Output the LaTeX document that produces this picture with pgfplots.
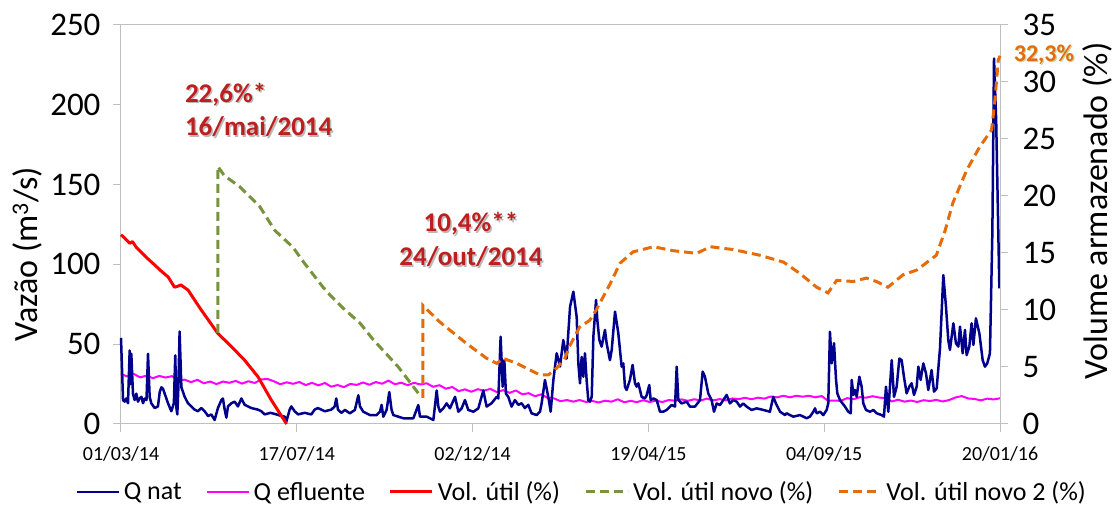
\documentclass[border=0pt]{standalone}
\usepackage{fontspec}
\setmainfont{Carlito}
\usepackage{pgfplots}
\pgfplotsset{compat=1.18}

\definecolor{qnat}{RGB}{0,0,140}
\definecolor{qefl}{RGB}{255,0,255}
\definecolor{volu}{RGB}{255,0,0}
\definecolor{voln}{RGB}{119,147,60}
\definecolor{voln2}{RGB}{228,108,10}
\definecolor{axgray}{RGB}{191,191,191}
\definecolor{annot}{RGB}{190,30,30}
\definecolor{glow}{RGB}{196,214,160}

\tikzset{shd/.style={text=gray!55, xshift=1.5pt, yshift=-1.5pt}}

\pgfplotsset{
  base/.style={
    scale only axis, width=879pt, height=399pt,
    at={(0,0)}, anchor=south west,
    xmin=0, xmax=690, clip=false,
    axis line style={axgray, line width=1pt},
    tick style={axgray, line width=1pt},
    major tick length=8pt, tick align=outside,
    /pgf/number format/assume math mode=true,
    /pgf/number format/use comma,
    yticklabel style={font=\fontsize{33}{35}\selectfont},
    xticklabel style={font=\fontsize{20}{22}\selectfont, yshift=-11pt},
    label style={font=\fontsize{34}{36}\selectfont},
  },
}

\begin{document}
\begin{tikzpicture}

% vazoes (eixo da esquerda)
\begin{axis}[base,
    ymin=0, ymax=250, ytick={0,50,...,250},
    xtick pos=lower, ytick pos=left,
    yticklabel style={xshift=-9pt},
    xtick={0,138,276,414,552,690},
    xticklabels={01/03/14,17/07/14,02/12/14,19/04/15,04/09/15,20/01/16},
    ylabel={Vazão (m\textsuperscript{3}/s)},
    ylabel style={at={(rel axis cs:0,0.426)}, anchor=center, yshift=94pt},
]
% Q efluente
\addplot[qefl, line width=2pt, line join=round] coordinates {
(0,31.3)(5,29.8)(10,31.4)(15,29.2)(20,30.3)(25,28.7)(30,30.1)(35,29.1)(40,30)(45,27.3)
(50,27.8)(55,26.2)(60,27.7)(65,25.5)(70,26.6)(75,25)(80,26.6)(85,25.8)(90,27)(95,25.3)
(100,26.8)(105,25.7)(110,27.9)(115,28.2)(120,26.8)(125,24.9)(130,26.1)(135,25.2)(140,26.3)(145,24.4)
(150,25.8)(155,24.2)(160,25.7)(165,23.4)(170,24.4)(175,23.1)(180,25.1)(185,24.5)(190,26)(195,24.6)
(200,26.3)(205,25.2)(210,27.2)(215,24.9)(220,25.9)(225,24.3)(230,25.8)(235,24.8)(240,25.5)(245,23.3)
(250,24.3)(255,22.1)(260,23.2)(265,20.6)(270,21.7)(275,20.2)(280,21.8)(285,20.9)(290,22)(295,20)
(300,21.2)(305,19.5)(310,21)(315,18.6)(320,19.3)(325,17.4)(330,18.6)(335,16.3)(340,16)(345,14.3)
(350,15)(355,14)(360,15)(365,13.8)(370,14.4)(375,13.5)(380,14.6)(385,14)(390,15.5)(395,13.6)
(400,14.5)(405,13.7)(410,14.9)(415,13.8)(420,14.6)(425,13.8)(430,15)(435,14.6)(440,15.4)(445,14.5)
(450,15.5)(455,14.7)(460,15.9)(465,14.8)(470,15.6)(475,14.8)(480,16)(485,15.6)(490,16.4)(495,15.5)
(500,16.5)(505,15.9)(510,17.2)(515,16.7)(520,17.7)(525,16.7)(530,17.7)(535,17.1)(540,17.7)(545,16.7)
(550,17.5)(555,14.6)(560,14.7)(565,14.5)(570,16.2)(575,15.5)(580,16.8)(585,16.5)(590,17.4)(595,16.6)
(600,16.2)(605,14.1)(610,15.2)(615,14)(620,14.7)(625,13.8)(630,14.9)(635,14.4)(640,15.1)(645,14.1)
(650,15)(655,16.6)(660,17.5)(665,16)(670,15.7)(675,14.8)(680,15.9)(685,15.4)(690,16.1)
};
% Q nat
\addplot[qnat, line width=2.5pt, line join=round] coordinates {
(0,54)(1.6,15)(2.9,14)(4,16)(5.5,13)(6.8,46)(7.5,25)(8.1,44)(9.4,19)(10.7,15)
(12,19)(13.3,14)(14.6,16)(16,17)(17.3,13)(18.6,16)(20,15)(21.2,44)(22.5,17)(23.8,13)
(26.4,10)(29,11)(30.4,20)(31.7,23)(33,22)(34.3,19)(36.9,13)(39.5,8)(41.5,13)(42.6,43)
(43.5,10)(44.2,6)(45,22)(46,58)(47.4,23)(50,17)(52.6,13)(55.2,11)(57.8,9)(60.4,8)
(63,10)(65.7,8)(68.3,5)(70.9,6)(73.5,2.5)(76.1,10)(78.8,15)(80,16)(81.4,9)(82.7,4)
(84,11)(86.6,13)(89.2,14)(91.8,11)(94.5,16)(97.1,12)(99.7,11)(102.3,10)(107.5,9)(110.2,8)
(112.8,6)(117.3,7)(122,6)(126,5)(128.5,4.6)(129.8,1.5)(132.4,9)(133.7,11)(136.3,8)(139,6)
(144.2,7)(149.4,6)(152,9)(154.6,10)(159.9,8)(165.1,9)(167.7,11)(169,16)(170.3,9)(173,7)
(175.8,8.8)(179.7,6.7)(183.6,8.8)(186.3,18)(187.6,11)(190.2,7.7)(195.4,5.6)(200.7,5.6)(203.3,7.7)(204.6,12)
(205.9,4.6)(208.5,8.8)(210.6,20)(212.4,8.8)(213.8,5.6)(221.6,3.6)(229.5,3.6)(233.4,11.9)(234.7,4.6)(239.9,4.6)
(245.2,2.5)(247.8,21)(249.1,10.9)(250.4,7.7)(253,9.8)(255.6,12.9)(258.2,9.8)(262.2,17)(264.8,7.7)(267.4,9.8)
(270,15)(272.6,8.8)(276.6,7.7)(280.5,9.8)(284.4,21)(287,10.9)(290.9,13)(294.9,17)(296.2,16)(298,54.7)
(299.6,23.4)(300.9,40)(302.2,19)(304,17)(306.6,10.9)(309.2,15)(311.9,12)(314.5,13)(317,10)(319.7,12)
(322.3,6.7)(326.3,5.6)(328.9,7.7)(330.2,13)(332.8,27.6)(335.4,17)(337.3,7.7)(339.4,27.6)(342,44.3)(344.6,36)
(347.2,52.6)(349.8,41)(352.5,73.5)(355.1,82.9)(357.7,67)(359,38)(360.3,25.5)(361.6,42)(362.9,29.6)(364.2,44.3)
(365.5,27.6)(366.8,15)(368.1,14)(369.5,17)(370.8,54.7)(372.9,77.7)(373.9,65.2)(375.5,52.6)(377.3,48.5)(379.9,58.9)
(381.2,50.6)(383.8,40)(385.2,46.4)(387.8,70.4)(390.4,56.8)(393,35.9)(394.3,38)(395.6,23.4)(396.9,21.3)(399.5,27.6)
(401.6,37)(403.5,25.5)(404.8,23.4)(406.1,25.5)(408.7,17)(411.3,16)(412.6,18)(414.7,24.4)(415.8,15)(417.9,16)
(420.5,15)(423.1,7.7)(425.7,7.7)(428.3,8.8)(432.3,11.9)(434.9,10.9)(436.2,35.9)(437.5,15)(440.1,12.9)(444,14)
(446.6,10.9)(450.6,10.9)(454.5,15)(456.6,32.8)(458.4,29.6)(461,19.2)(463.6,15)(465.5,7.7)(467.6,12.9)(470.2,11.9)
(472.8,15)(475.4,18.2)(478,12.9)(480.7,15)(483.3,14)(485.9,10.9)(488.5,12.9)(491.1,10.9)(495,8.8)(499,9.8)
(504.2,8.8)(509.4,7.7)(512,17)(514.1,12.9)(517.3,7.7)(521.2,5.6)(522.5,6.7)(525.1,5.6)(527.8,4.6)(533,5.6)
(538.2,3.6)(540.8,4.6)(543.5,7.7)(544.8,9.8)(546.1,6.7)(548.7,7.7)(551.3,5.6)(553.9,8.8)(555.2,12.9)(556.5,57.8)
(557.9,38)(559.7,50.6)(561.3,27.6)(562.3,19.2)(564.4,15)(568.3,10.9)(570.9,7.7)(572.8,6.7)(573.6,27.6)(574.9,18.2)
(576.2,21.3)(577.5,17)(579.6,29.6)(581.4,23.4)(582.7,12.9)(584.8,8.8)(587.9,7.7)(590.6,8.8)(593.2,6.7)(597.1,5.6)
(598.9,4.6)(600.5,23.4)(602.3,7.7)(605,40)(606.8,17)(608.9,23.4)(611,41)(612.8,40)(614.6,29.6)(616.7,19.2)
(618.8,23.4)(620.6,25.5)(622.5,18.2)(624.6,23.4)(625.9,35.9)(627.7,27.6)(629.8,38)(631.9,31.7)(633.7,21.3)(636.3,33.8)
(638.2,20.3)(640.3,22.3)(642.9,47.4)(645.5,93.3)(647.6,73.5)(649.4,52.6)(650.7,46.4)(653.4,63.1)(655.4,50.6)(657.3,48.5)
(658.6,61)(660.7,44.3)(662.5,58.9)(663.8,43.2)(665.9,48.5)(667.7,63.1)(669.1,49.5)(671.1,66.2)(673.8,56.8)(676.4,40)
(678.2,35.9)(680,38)(682.1,44.3)(684,120)(685.3,229)(687,190)(689.5,85)
};
\end{axis}

% volumes (eixo da direita)
\begin{axis}[base,
    ymin=0, ymax=35, ytick={0,5,...,35},
    axis x line=none, axis y line*=right, ytick pos=right,
    yticklabel style={xshift=11pt},
    xtick=\empty,
    ylabel={Volume armazenado (\%)},
    ylabel style={at={(rel axis cs:1,0.534)}, anchor=center, yshift=-97pt},
    legend style={at={(0.524,-0.1704)}, anchor=center, draw=none,
      font=\fontsize{26}{28}\selectfont, legend columns=5,
      /tikz/every even column/.append style={column sep=22pt},
      /tikz/every odd column/.append style={column sep=2pt}},
    legend image code/.code={\draw[#1] (0pt,0pt) -- (42pt,0pt);},
]
\addlegendimage{qnat, line width=2.5pt}
\addlegendentry{Q nat}
\addlegendimage{qefl, line width=2pt}
\addlegendentry{Q efluente}

\addplot[volu, line width=3pt, line join=round] coordinates {
(0,16.6)(3,16.3)(6.8,15.85)(9,16.0)(12,15.5)(21,14.5)(25,14.1)(31.7,13.4)(37,12.9)(42,12.0)
(45,12.1)(47,12.2)(52.6,11.75)(63,10.0)(76,7.95)(86.6,6.8)(97,5.6)(107.5,4.15)(118,2.1)(130,0)
};
\addlegendentry{Vol. útil (\%)}

\addplot[voln, line width=3pt, dash pattern=on 9pt off 5pt] coordinates {
(76,8.0)(76,22.6)(81,21.8)(93.4,20.8)(109,19.06)(120.6,17.0)(135,15.5)(144,14.1)(158.6,12.0)(165,11.2)
(174,10.2)(187.6,8.85)(198,7.4)(217.7,5.0)(233.4,2.7)
};
\addlegendentry{Vol. útil novo (\%)}

\addplot[voln2, line width=3pt, dash pattern=on 9pt off 5pt] coordinates {
(237,2.3)(237,10.4)(250,8.97)(271,7.08)(287,5.76)(295,5.32)(300,5.76)(310.6,5.32)(321,4.74)(329,4.3)
(335.4,4.3)(342,4.9)(348.5,5.76)(352,6.8)(360,8.5)(368,9.1)(373,10.0)(384,12.3)(391.7,14.1)(402,15.1)
(418,15.55)(433.5,15.2)(452,14.97)(462.6,15.55)(480.6,15.3)(501.6,14.8)(520,14.2)(533,13.2)(546,12.0)(555,11.5)
(561.8,12.6)(575,12.5)(585,12.8)(593,12.5)(602,12.0)(614,13.1)(624.6,13.5)(640,14.8)(647,17.0)(653,19.4)
(664,22.3)(674,24.3)(683.4,25.8)(686,28.4)(688.6,31.9)(690,32.3)
};
\addlegendentry{Vol. útil novo 2 (\%)}

% anotacoes
\begin{scope}[font=\fontsize{27}{29}\selectfont\bfseries]
\node[shd, anchor=west] at (axis cs:47.5,28.9) {22,6\%*};
\node[text=annot, anchor=west] at (axis cs:47.5,28.9) {22,6\%*};
\node[shd, anchor=west] at (axis cs:47.5,26.05) {16/mai/2014};
\node[text=annot, anchor=west] at (axis cs:47.5,26.05) {16/mai/2014};
\node[shd] at (axis cs:274.7,17.54) {10,4\%**};
\node[text=annot] at (axis cs:274.7,17.54) {10,4\%**};
\node[shd] at (axis cs:274.7,14.65) {24/out/2014};
\node[text=annot] at (axis cs:274.7,14.65) {24/out/2014};
\end{scope}
\node[font=\fontsize{24}{26}\selectfont\bfseries, text=glow, xshift=1.2pt, yshift=-1.2pt] at (axis cs:724.5,32.4) {32,3\%};
\node[font=\fontsize{24}{26}\selectfont\bfseries, text=voln2] at (axis cs:724.5,32.4) {32,3\%};
\end{axis}

\pgfresetboundingbox
\path (-121pt,-81pt) rectangle (998pt,424pt);
\end{tikzpicture}
\end{document}
